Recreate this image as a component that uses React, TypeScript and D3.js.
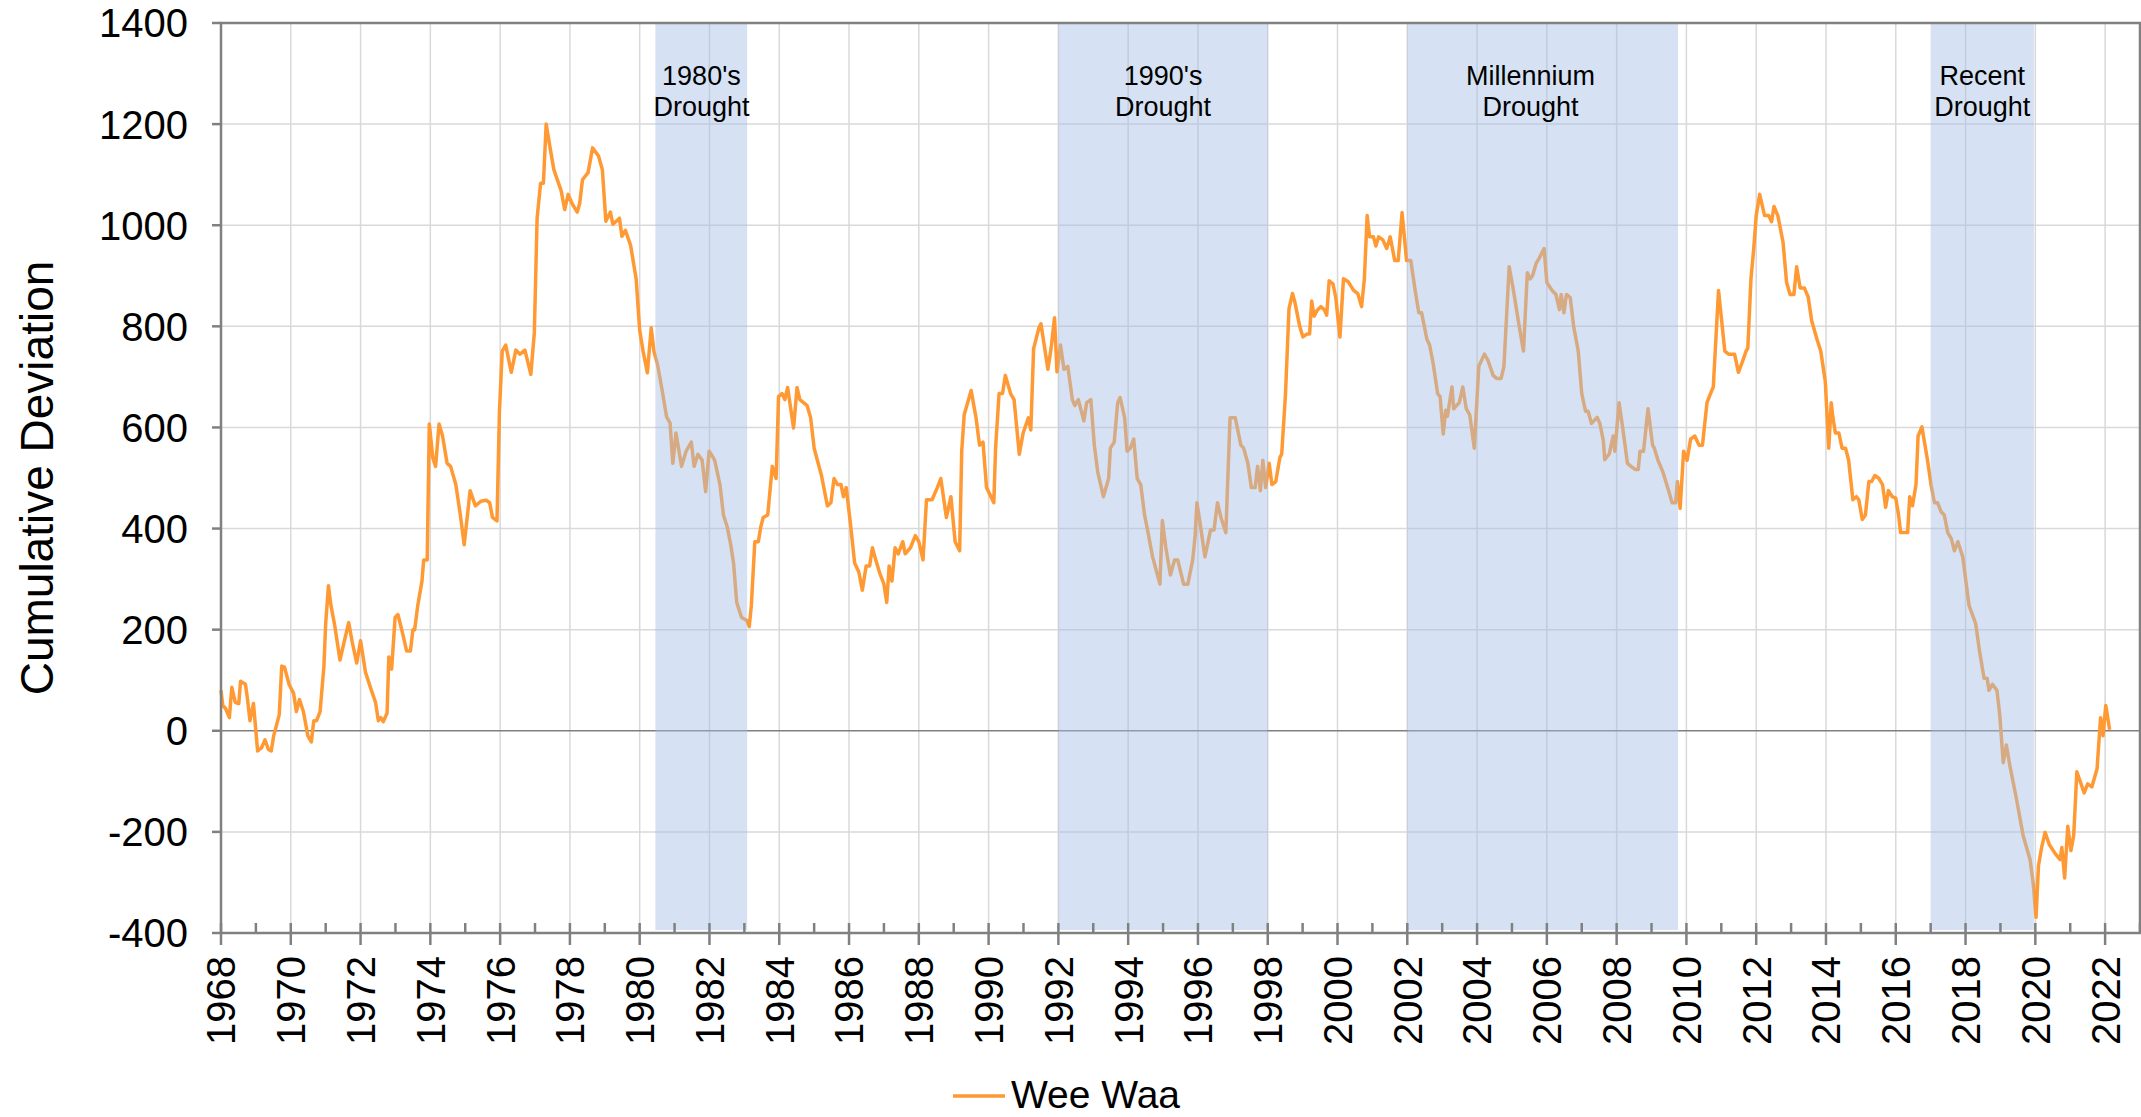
import React, { useEffect, useRef } from 'react';
import * as d3 from 'd3';

// [decimal year, cumulative deviation]
const dev1968to1983: [number, number][] = [
  [1968.00, 80], [1968.05, 50], [1968.13, 44], [1968.24, 26], [1968.31, 86], [1968.41, 56], [1968.51, 54], [1968.56, 98],
  [1968.70, 92], [1968.75, 68], [1968.83, 20], [1968.93, 54], [1969.05, -40], [1969.16, -34], [1969.26, -18], [1969.36, -37],
  [1969.44, -40], [1969.51, -10], [1969.67, 32], [1969.74, 128], [1969.82, 126], [1969.95, 92], [1970.08, 74], [1970.16, 38],
  [1970.25, 62], [1970.36, 38], [1970.41, 20], [1970.49, -10], [1970.59, -22], [1970.66, 20], [1970.74, 20], [1970.84, 38],
  [1970.95, 128], [1971.00, 212], [1971.08, 287], [1971.15, 248], [1971.25, 212], [1971.41, 140], [1971.53, 176], [1971.66, 214],
  [1971.76, 176], [1971.89, 134], [1972.00, 178], [1972.14, 116], [1972.31, 80], [1972.43, 56], [1972.51, 20], [1972.58, 26],
  [1972.65, 18], [1972.76, 35], [1972.81, 146], [1972.89, 122], [1972.99, 224], [1973.07, 230], [1973.20, 194], [1973.32, 158],
  [1973.43, 158], [1973.50, 200], [1973.55, 200], [1973.64, 248], [1973.76, 296], [1973.81, 338], [1973.91, 338], [1973.97, 607],
  [1974.07, 540], [1974.15, 523], [1974.25, 607], [1974.35, 583], [1974.48, 529], [1974.58, 523], [1974.73, 487], [1974.86, 427],
  [1974.97, 368], [1975.14, 475], [1975.29, 445], [1975.45, 454], [1975.60, 456], [1975.70, 451], [1975.78, 422], [1975.91, 415],
  [1975.98, 631], [1976.06, 751], [1976.16, 763], [1976.32, 709], [1976.45, 753], [1976.57, 745], [1976.71, 753], [1976.88, 705],
  [1976.98, 787], [1977.06, 1014], [1977.16, 1083], [1977.24, 1083], [1977.32, 1200], [1977.42, 1158], [1977.54, 1110], [1977.75, 1068],
  [1977.85, 1031], [1977.95, 1061], [1978.06, 1043], [1978.21, 1026], [1978.28, 1043], [1978.36, 1090], [1978.52, 1104], [1978.65, 1153],
  [1978.82, 1137], [1978.93, 1110], [1979.03, 1008], [1979.16, 1026], [1979.23, 1002], [1979.33, 1008], [1979.42, 1014], [1979.49, 978],
  [1979.59, 990], [1979.74, 960], [1979.90, 893], [1980.00, 792], [1980.10, 750], [1980.22, 708], [1980.33, 797], [1980.41, 750],
  [1980.51, 725], [1980.64, 675], [1980.77, 621], [1980.87, 609], [1980.95, 529], [1981.04, 589], [1981.20, 523], [1981.33, 553],
  [1981.48, 571], [1981.56, 523], [1981.67, 547], [1981.79, 535], [1981.89, 473], [1981.99, 553], [1982.10, 541], [1982.15, 535],
  [1982.30, 487], [1982.40, 427], [1982.51, 403], [1982.61, 368], [1982.69, 332], [1982.78, 254], [1982.92, 224], [1983.07, 218],
  [1983.14, 206], [1983.20, 248], [1983.30, 374],
];

const dev1983to1998: [number, number][] = [
  [1983.40, 374], [1983.47, 403], [1983.54, 422], [1983.67, 427], [1983.80, 523], [1983.91, 499], [1983.98, 661], [1984.08, 667],
  [1984.16, 655], [1984.24, 679], [1984.41, 599], [1984.51, 679], [1984.59, 655], [1984.80, 643], [1984.90, 619], [1985.00, 559],
  [1985.21, 505], [1985.38, 445], [1985.48, 451], [1985.57, 499], [1985.67, 487], [1985.77, 487], [1985.84, 463], [1985.92, 481],
  [1986.03, 416], [1986.16, 332], [1986.28, 314], [1986.38, 278], [1986.49, 326], [1986.59, 326], [1986.67, 362], [1986.74, 344],
  [1986.87, 314], [1987.00, 290], [1987.08, 254], [1987.15, 326], [1987.23, 296], [1987.32, 362], [1987.41, 350], [1987.54, 374],
  [1987.61, 350], [1987.76, 362], [1987.90, 386], [1988.00, 374], [1988.12, 338], [1988.22, 457], [1988.38, 457], [1988.53, 481],
  [1988.63, 499], [1988.79, 422], [1988.92, 463], [1989.04, 374], [1989.17, 356], [1989.23, 553], [1989.30, 625], [1989.45, 661],
  [1989.50, 673], [1989.64, 619], [1989.74, 565], [1989.84, 571], [1989.94, 481], [1990.15, 451], [1990.20, 559], [1990.30, 667],
  [1990.40, 667], [1990.48, 703], [1990.63, 667], [1990.73, 655], [1990.88, 547], [1990.99, 589], [1991.14, 619], [1991.21, 595],
  [1991.29, 756], [1991.45, 799], [1991.50, 805], [1991.70, 715], [1991.79, 756], [1991.89, 817], [1991.96, 710], [1992.06, 763],
  [1992.16, 715], [1992.27, 721], [1992.40, 655], [1992.47, 643], [1992.57, 655], [1992.73, 613], [1992.81, 649], [1992.93, 655],
  [1993.03, 565], [1993.13, 511], [1993.29, 463], [1993.44, 499], [1993.49, 559], [1993.60, 571], [1993.70, 649], [1993.77, 659],
  [1993.90, 619], [1993.97, 553], [1994.06, 559], [1994.16, 577], [1994.26, 499], [1994.36, 487], [1994.47, 427], [1994.57, 392],
  [1994.70, 344], [1994.91, 290], [1994.98, 416], [1995.08, 362], [1995.21, 308], [1995.33, 338], [1995.42, 338], [1995.59, 290],
  [1995.71, 290], [1995.85, 338], [1995.92, 386], [1995.97, 451], [1996.05, 416], [1996.20, 344], [1996.36, 397], [1996.46, 397],
  [1996.56, 451], [1996.66, 422], [1996.80, 392], [1996.92, 619], [1997.07, 619], [1997.23, 565], [1997.31, 559], [1997.43, 529],
  [1997.53, 481], [1997.64, 481], [1997.71, 523], [1997.79, 475], [1997.86, 535], [1997.94, 481], [1998.04, 529], [1998.12, 487],
  [1998.23, 493], [1998.35, 541], [1998.40, 547], [1998.51, 667], [1998.61, 835], [1998.71, 865], [1998.78, 847],
];

const dev1998to2014: [number, number][] = [
  [1998.92, 799], [1999.01, 779], [1999.13, 785], [1999.20, 785], [1999.26, 850], [1999.33, 820], [1999.42, 832], [1999.52, 839],
  [1999.62, 833], [1999.69, 822], [1999.76, 890], [1999.87, 884], [1999.95, 857], [2000.07, 779], [2000.17, 894], [2000.31, 888],
  [2000.46, 871], [2000.58, 865], [2000.69, 839], [2000.77, 894], [2000.85, 1019], [2000.92, 977], [2001.03, 977], [2001.10, 959],
  [2001.18, 977], [2001.30, 971], [2001.41, 954], [2001.51, 977], [2001.64, 930], [2001.74, 930], [2001.85, 1025], [2001.98, 930],
  [2002.10, 930], [2002.23, 869], [2002.33, 827], [2002.41, 827], [2002.56, 775], [2002.64, 763], [2002.74, 727], [2002.87, 667],
  [2002.94, 661], [2003.03, 587], [2003.10, 634], [2003.15, 622], [2003.28, 680], [2003.33, 637], [2003.49, 649], [2003.59, 680],
  [2003.69, 637], [2003.79, 625], [2003.92, 559], [2004.05, 721], [2004.21, 745], [2004.31, 733], [2004.46, 703], [2004.56, 697],
  [2004.69, 697], [2004.77, 721], [2004.92, 918], [2005.03, 876], [2005.21, 799], [2005.33, 751], [2005.44, 906], [2005.52, 894],
  [2005.59, 900], [2005.69, 924], [2005.79, 936], [2005.92, 954], [2006.00, 887], [2006.15, 871], [2006.26, 863], [2006.36, 833],
  [2006.41, 863], [2006.49, 827], [2006.56, 863], [2006.67, 857], [2006.77, 799], [2006.90, 751], [2007.00, 667], [2007.11, 632],
  [2007.18, 632], [2007.28, 608], [2007.44, 620], [2007.52, 608], [2007.62, 573], [2007.66, 536], [2007.79, 548], [2007.90, 583],
  [2007.95, 553], [2008.07, 649], [2008.17, 601], [2008.31, 529], [2008.41, 523], [2008.53, 517], [2008.62, 517], [2008.67, 553],
  [2008.77, 553], [2008.90, 637], [2009.03, 565], [2009.08, 559], [2009.18, 536], [2009.33, 511], [2009.49, 475], [2009.59, 451],
  [2009.69, 451], [2009.74, 493], [2009.82, 440], [2009.92, 553], [2010.02, 535], [2010.12, 577], [2010.24, 583], [2010.36, 565],
  [2010.46, 565], [2010.59, 649], [2010.69, 667], [2010.77, 680], [2010.92, 871], [2011.10, 751], [2011.21, 745], [2011.38, 745],
  [2011.49, 709], [2011.59, 727], [2011.71, 751], [2011.76, 757], [2011.85, 894], [2011.93, 954], [2012.00, 1019], [2012.10, 1061],
  [2012.24, 1019], [2012.36, 1019], [2012.44, 1007], [2012.51, 1037], [2012.62, 1019], [2012.77, 966], [2012.87, 887], [2012.97, 863],
  [2013.08, 863], [2013.16, 918], [2013.26, 876], [2013.38, 876], [2013.49, 858], [2013.59, 811], [2013.74, 775], [2013.85, 751],
  [2013.98, 691], [2014.08, 559], [2014.15, 649],
];

const dev2014to2022: [number, number][] = [
  [2014.20, 619], [2014.27, 589], [2014.37, 589], [2014.46, 559], [2014.56, 559], [2014.65, 535], [2014.77, 457], [2014.87, 463],
  [2014.94, 457], [2015.04, 418], [2015.13, 427], [2015.23, 493], [2015.31, 493], [2015.40, 505], [2015.52, 499], [2015.62, 487],
  [2015.71, 442], [2015.79, 475], [2015.90, 463], [2016.00, 460], [2016.08, 427], [2016.14, 392], [2016.24, 392], [2016.34, 392],
  [2016.40, 463], [2016.48, 445], [2016.58, 487], [2016.64, 583], [2016.75, 601], [2016.91, 535], [2017.01, 487], [2017.11, 451],
  [2017.20, 451], [2017.30, 433], [2017.39, 427], [2017.49, 392], [2017.59, 380], [2017.68, 356], [2017.78, 374], [2017.92, 344],
  [2018.10, 248], [2018.29, 212], [2018.40, 158], [2018.53, 104], [2018.62, 104], [2018.67, 80], [2018.77, 92], [2018.90, 80],
  [2018.98, 32], [2019.08, -63], [2019.17, -28], [2019.27, -69], [2019.46, -135], [2019.65, -207], [2019.85, -255], [2019.94, -303],
  [2020.02, -369], [2020.09, -267], [2020.18, -231], [2020.28, -201], [2020.40, -225], [2020.57, -243], [2020.71, -255], [2020.76, -231],
  [2020.84, -291], [2020.93, -189], [2021.02, -237], [2021.10, -207], [2021.19, -81], [2021.34, -111], [2021.40, -123], [2021.50, -105],
  [2021.62, -111], [2021.77, -75], [2021.87, 26], [2021.94, -10], [2022.02, 50], [2022.13, 2],
];

const droughts = [
  { start: 1980.45, end: 1983.08, labelAt: 1981.77, label: ["1980's", 'Drought'] },
  { start: 1992.0, end: 1998.0, labelAt: 1995.0, label: ["1990's", 'Drought'] },
  { start: 2002.0, end: 2009.76, labelAt: 2005.53, label: ['Millennium', 'Drought'] },
  { start: 2017.0, end: 2019.96, labelAt: 2018.48, label: ['Recent', 'Drought'] },
];

const yTicks = [-400, -200, 0, 200, 400, 600, 800, 1000, 1200, 1400];
const xTicks = [1968, 1970, 1972, 1974, 1976, 1978, 1980, 1982, 1984, 1986, 1988, 1990, 1992, 1994, 1996,
  1998, 2000, 2002, 2004, 2006, 2008, 2010, 2012, 2014, 2016, 2018, 2020, 2022];
const seriesName = 'Wee Waa';
const yTitle = 'Cumulative Deviation';

const App = () => {
  const chartRef = useRef<SVGSVGElement>(null);

  useEffect(() => {
    const svg = d3.select(chartRef.current);
    svg.selectAll('*').remove();

    const font = '"Liberation Sans", Arial, Helvetica, sans-serif';
    const left = 221, right = 2140, top = 23, bottom = 933;
    const axisColor = '#808080';
    const lineColor = '#ff9933';

    const x = d3.scaleLinear().domain([1968, 2023]).range([left, right]);
    const y = d3.scaleLinear().domain([-400, 1400]).range([bottom, top]);

    // gridlines
    svg.append('g')
      .selectAll('line')
      .data(yTicks.filter(v => v !== -400 && v !== 0 && v !== 1400))
      .join('line')
      .attr('x1', left).attr('x2', right)
      .attr('y1', d => y(d)).attr('y2', d => y(d))
      .attr('stroke', '#d9d9d9').attr('stroke-width', 1.5);

    svg.append('g')
      .selectAll('line')
      .data(xTicks.filter(v => v !== 1968))
      .join('line')
      .attr('x1', d => x(d)).attr('x2', d => x(d))
      .attr('y1', top).attr('y2', bottom)
      .attr('stroke', '#d9d9d9').attr('stroke-width', 1.5);

    // zero line
    svg.append('line')
      .attr('x1', left).attr('x2', right)
      .attr('y1', y(0)).attr('y2', y(0))
      .attr('stroke', axisColor).attr('stroke-width', 1.5);

    // series
    const data = [...dev1968to1983, ...dev1983to1998, ...dev1998to2014, ...dev2014to2022];
    const line = d3.line<[number, number]>().x(d => x(d[0])).y(d => y(d[1]));
    svg.append('path')
      .datum(data)
      .attr('d', line)
      .attr('fill', 'none')
      .attr('stroke', lineColor)
      .attr('stroke-width', 3.5)
      .attr('stroke-linejoin', 'round');

    // drought shading sits on top of the line
    svg.append('g')
      .selectAll('rect')
      .data(droughts)
      .join('rect')
      .attr('x', d => x(d.start))
      .attr('width', d => x(d.end) - x(d.start))
      .attr('y', top)
      .attr('height', bottom - top - 3)
      .attr('fill', '#a3bee4')
      .attr('opacity', 0.45);

    const labels = svg.append('g')
      .selectAll('text')
      .data(droughts)
      .join('text')
      .attr('x', d => x(d.labelAt))
      .attr('y', 85)
      .attr('text-anchor', 'middle')
      .style('font-family', font)
      .style('font-size', '27px')
      .style('fill', '#000');
    labels.selectAll('tspan')
      .data(d => d.label.map((t, i) => ({ t, i, cx: x(d.labelAt) })))
      .join('tspan')
      .attr('x', d => d.cx)
      .attr('dy', d => (d.i === 0 ? 0 : 31))
      .text(d => d.t);

    // frame
    svg.append('rect')
      .attr('x', left).attr('y', top)
      .attr('width', right - left).attr('height', bottom - top)
      .attr('fill', 'none')
      .attr('stroke', axisColor).attr('stroke-width', 2.5);

    // y ticks
    svg.append('g')
      .selectAll('line')
      .data(yTicks)
      .join('line')
      .attr('x1', left - 9).attr('x2', left)
      .attr('y1', d => y(d)).attr('y2', d => y(d))
      .attr('stroke', axisColor).attr('stroke-width', 2.5);

    svg.append('g')
      .selectAll('text')
      .data(yTicks)
      .join('text')
      .attr('x', 188)
      .attr('y', d => y(d))
      .attr('dy', '0.36em')
      .attr('text-anchor', 'end')
      .style('font-family', font)
      .style('font-size', '40px')
      .style('fill', '#000')
      .text(d => d);

    // x ticks: labelled years cross the axis, odd years sit inside
    svg.append('g')
      .selectAll('line')
      .data(xTicks)
      .join('line')
      .attr('x1', d => x(d)).attr('x2', d => x(d))
      .attr('y1', bottom - 10).attr('y2', bottom + 12)
      .attr('stroke', axisColor).attr('stroke-width', 2.5);

    svg.append('g')
      .selectAll('line')
      .data(xTicks.map(v => v + 1))
      .join('line')
      .attr('x1', d => x(d)).attr('x2', d => x(d))
      .attr('y1', bottom - 10).attr('y2', bottom)
      .attr('stroke', axisColor).attr('stroke-width', 2.5);

    svg.append('g')
      .selectAll('text')
      .data(xTicks)
      .join('text')
      .attr('transform', d => `translate(${x(d)},956) rotate(-90)`)
      .attr('dy', '0.36em')
      .attr('text-anchor', 'end')
      .style('font-family', font)
      .style('font-size', '40px')
      .style('fill', '#000')
      .text(d => d);

    // axis title
    svg.append('text')
      .attr('transform', `translate(36,${(top + bottom) / 2}) rotate(-90)`)
      .attr('dy', '0.36em')
      .attr('text-anchor', 'middle')
      .style('font-family', font)
      .style('font-size', '46px')
      .style('fill', '#000')
      .text(yTitle);

    // legend (kept a few px off the bottom edge so the text box fits)
    const legend = svg.append('g').attr('transform', 'translate(953,1096)');
    legend.append('line')
      .attr('x1', 0).attr('x2', 52)
      .attr('stroke', lineColor).attr('stroke-width', 3.5);
    legend.append('text')
      .attr('x', 58)
      .attr('y', 12)
      .style('font-family', font)
      .style('font-size', '39px')
      .style('fill', '#000')
      .text(seriesName);
  }, []);

  return (
    <svg
      ref={chartRef}
      width={2141}
      height={1117}
      style={{ position: 'absolute', left: 0, top: 0, background: '#fff' }}
    />
  );
};

export default App;
